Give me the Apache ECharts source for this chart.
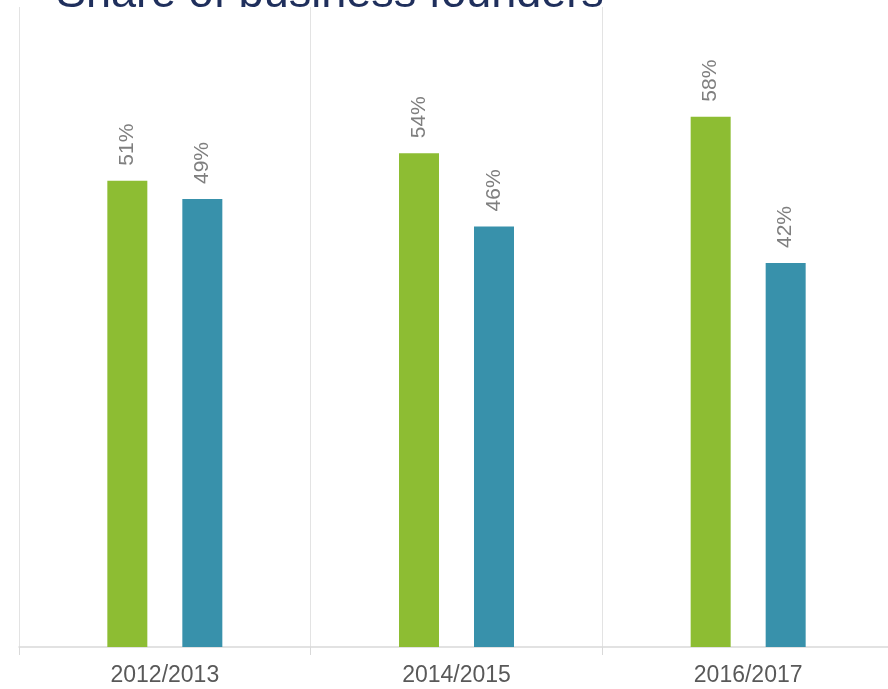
<!DOCTYPE html>
<html>
<head>
<meta charset="utf-8">
<script src="https://cdn.jsdelivr.net/npm/echarts@6/dist/echarts.min.js"></script>
<style>html,body{margin:0;padding:0;background:#fff;overflow:hidden;width:888px;height:689px}#c{width:894px;height:689px}</style>
</head>
<body>
<div id="c"></div>
<script>
const categories = ['2012/2013', '2014/2015', '2016/2017'];
const seriesA = [51, 54, 58];
const seriesB = [49, 46, 42];
const seriesNames = ['Series A', 'Series B'];
const titleText = 'Share of business founders';

const chart = echarts.init(document.getElementById('c'), null, {renderer: 'canvas'});
const labelOpt = {
  show: true, position: 'top', rotate: 90, align: 'left', verticalAlign: 'middle',
  distance: 15, color: '#7f7f7f', fontSize: 21, fontFamily: 'Liberation Sans, Arial, sans-serif',
  formatter: p => p.value + '%'
};
chart.setOption({
  animation: false,
  title: {
    text: titleText, left: 51, top: -33,
    textStyle: {color: '#1f2f5c', fontSize: 45, fontWeight: 'normal', fontFamily: 'Liberation Sans, Arial, sans-serif'}
  },
  grid: {left: 19, top: 7, right: 0, bottom: 42, containLabel: false},
  xAxis: {
    type: 'category', data: categories, boundaryGap: true,
    axisLine: {lineStyle: {color: '#d9d9d9', width: 1.5}},
    axisTick: {show: true, length: 8, lineStyle: {color: '#d9d9d9'}},
    splitLine: {show: true, lineStyle: {color: '#e3e3e3', width: 1}},
    axisLabel: {color: '#595959', fontSize: 23, margin: 17, fontFamily: 'Liberation Sans, Arial, sans-serif'}
  },
  yAxis: {type: 'value', min: 0, max: 70, show: false, splitLine: {show: false}},
  series: [
    {name: seriesNames[0], type: 'bar', data: seriesA, barWidth: 40, barGap: '87.5%',
     itemStyle: {color: '#8dbd33'}, label: labelOpt},
    {name: seriesNames[1], type: 'bar', data: seriesB, barWidth: 40, barGap: '87.5%',
     itemStyle: {color: '#3891ab'}, label: labelOpt}
  ]
});
</script>
</body>
</html>
